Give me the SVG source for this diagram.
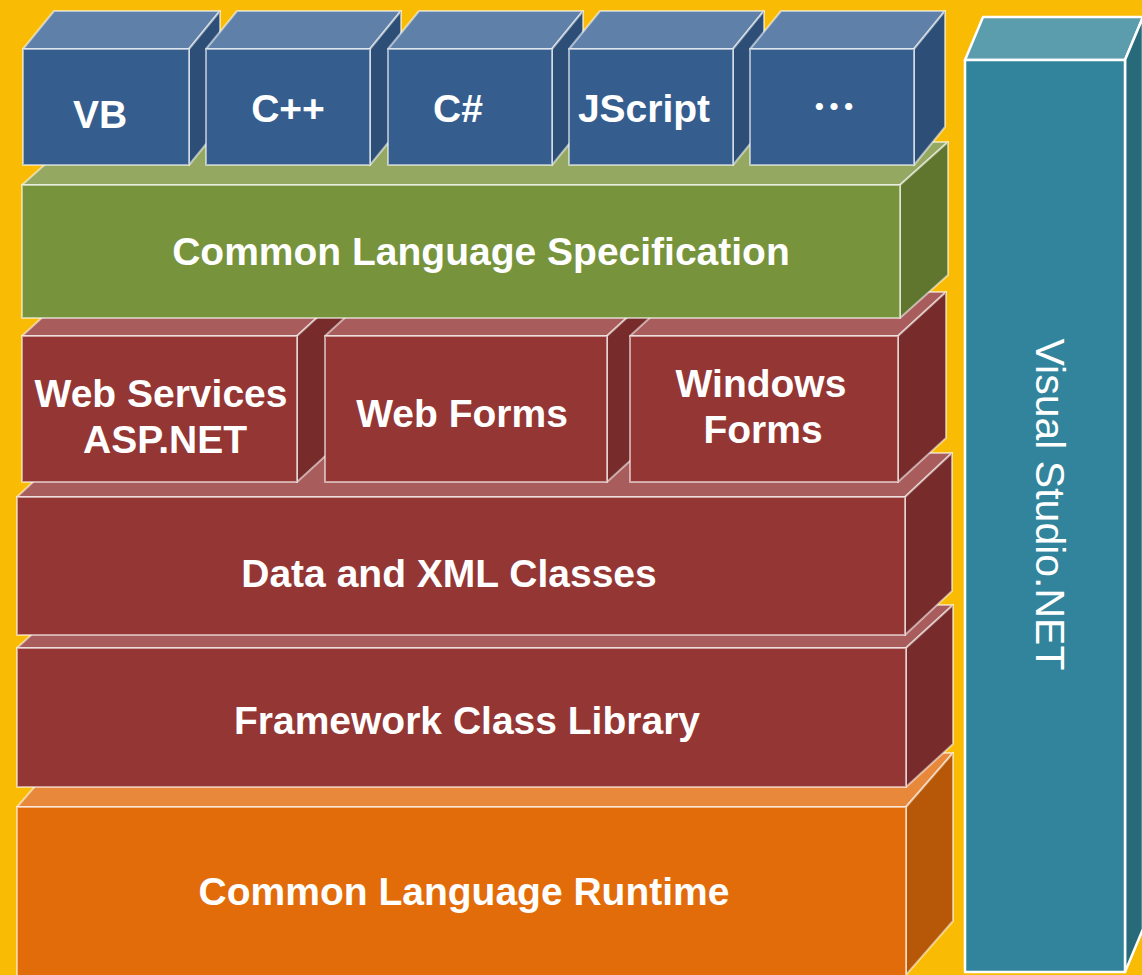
<svg xmlns="http://www.w3.org/2000/svg" width="1142" height="975" viewBox="0 0 1142 975">
<style>
  .edge { stroke: #FFFFFF; stroke-opacity: 0.55; stroke-width: 2; stroke-linejoin: round; }
  .bF { fill: #355E8F; } .bT { fill: #5E80A9; } .bS { fill: #2D4E77; }
  .gF { fill: #77933C; } .gT { fill: #94A862; } .gS { fill: #60762F; }
  .rF { fill: #943634; } .rT { fill: #A85C5B; } .rS { fill: #772B2B; }
  .oF { fill: #E36C0A; } .oT { fill: #E8883A; } .oS { fill: #B75808; }
  .tF { fill: #31849B; } .tT { fill: #5B9DAD; } .tS { fill: #276A7A; }
  .vs { stroke: #FFFFFF; stroke-width: 2.5; stroke-linejoin: round; }
  .lbl { fill: #FFFFFF; font-family: "Liberation Sans", Arial, sans-serif; font-weight: bold; font-size: 39px; text-anchor: middle; }
  .vlbl { fill: #FFFFFF; font-family: "Liberation Sans", Arial, sans-serif; font-size: 41px; text-anchor: middle; }
  .dots { fill: #FFFFFF; font-family: "Noto Sans CJK SC", sans-serif; font-weight: bold; font-size: 44px; text-anchor: middle; }
</style>
<rect x="0" y="0" width="1142" height="975" fill="#FABB05"/>

<g id="visual-studio">
  <polygon class="tT vs" points="965,60 1125,60 1143,17 983,17"/>
  <polygon class="tS vs" points="1125,60 1143,17 1143,929 1125,972"/>
  <rect class="tF vs" x="965" y="60" width="160" height="912"/>
  <text class="vlbl" transform="translate(1036,504.5) rotate(90)">Visual Studio.NET</text>
</g>

<g id="clr">
  <polygon class="oT edge" points="17,807 906,807 953,753 64,753"/>
  <polygon class="oS edge" points="906,807 953,753 953,921 906,975"/>
  <rect class="oF edge" x="17" y="807" width="889" height="175"/>
  <text class="lbl" x="464" y="905">Common Language Runtime</text>
</g>

<g id="fcl">
  <polygon class="rT edge" points="17,648 906,648 953,605 64,605"/>
  <polygon class="rS edge" points="906,648 953,605 953,744 906,787"/>
  <rect class="rF edge" x="17" y="648" width="889" height="139"/>
  <text class="lbl" x="467" y="734">Framework Class Library</text>
</g>

<g id="data-xml">
  <polygon class="rT edge" points="17,497 905,497 952,453 64,453"/>
  <polygon class="rS edge" points="905,497 952,453 952,591 905,635"/>
  <rect class="rF edge" x="17" y="497" width="888" height="138"/>
  <text class="lbl" x="449" y="587">Data and XML Classes</text>
</g>

<g id="web-services">
  <polygon class="rT edge" points="22,336 297,336 345,292 70,292"/>
  <polygon class="rS edge" points="297,336 345,292 345,438 297,482"/>
  <rect class="rF edge" x="22" y="336" width="275" height="146"/>
  <text class="lbl" x="161" y="407">Web Services</text>
  <text class="lbl" x="165" y="453">ASP.NET</text>
</g>

<g id="web-forms">
  <polygon class="rT edge" points="325,336 607,336 655,292 373,292"/>
  <polygon class="rS edge" points="607,336 655,292 655,438 607,482"/>
  <rect class="rF edge" x="325" y="336" width="282" height="146"/>
  <text class="lbl" x="462" y="427">Web Forms</text>
</g>

<g id="windows-forms">
  <polygon class="rT edge" points="630,336 898,336 946,292 678,292"/>
  <polygon class="rS edge" points="898,336 946,292 946,438 898,482"/>
  <rect class="rF edge" x="630" y="336" width="268" height="146"/>
  <text class="lbl" x="761" y="397">Windows</text>
  <text class="lbl" x="763" y="443">Forms</text>
</g>

<g id="cls">
  <polygon class="gT edge" points="22,185 900,185 948,142 70,142"/>
  <polygon class="gS edge" points="900,185 948,142 948,275 900,318"/>
  <rect class="gF edge" x="22" y="185" width="878" height="133"/>
  <text class="lbl" x="481" y="265">Common Language Specification</text>
</g>

<g id="vb">
  <polygon class="bT edge" points="23,49 189,49 220,11 54,11"/>
  <polygon class="bS edge" points="189,49 220,11 220,127 189,165"/>
  <rect class="bF edge" x="23" y="49" width="166" height="116"/>
  <text class="lbl" x="100" y="128">VB</text>
</g>

<g id="cpp">
  <polygon class="bT edge" points="206,49 370,49 401,11 237,11"/>
  <polygon class="bS edge" points="370,49 401,11 401,127 370,165"/>
  <rect class="bF edge" x="206" y="49" width="164" height="116"/>
  <text class="lbl" x="288" y="122">C++</text>
</g>

<g id="csharp">
  <polygon class="bT edge" points="388,49 552,49 583,11 419,11"/>
  <polygon class="bS edge" points="552,49 583,11 583,127 552,165"/>
  <rect class="bF edge" x="388" y="49" width="164" height="116"/>
  <text class="lbl" x="458" y="122">C#</text>
</g>

<g id="jscript">
  <polygon class="bT edge" points="569,49 733,49 764,11 600,11"/>
  <polygon class="bS edge" points="733,49 764,11 764,127 733,165"/>
  <rect class="bF edge" x="569" y="49" width="164" height="116"/>
  <text class="lbl" x="644" y="122">JScript</text>
</g>

<g id="more">
  <polygon class="bT edge" points="750,49 914,49 945,11 781,11"/>
  <polygon class="bS edge" points="914,49 945,11 945,127 914,165"/>
  <rect class="bF edge" x="750" y="49" width="164" height="116"/>
  <text class="dots" x="834" y="123">…</text>
</g>

<g id="connectors"/>
</svg>
